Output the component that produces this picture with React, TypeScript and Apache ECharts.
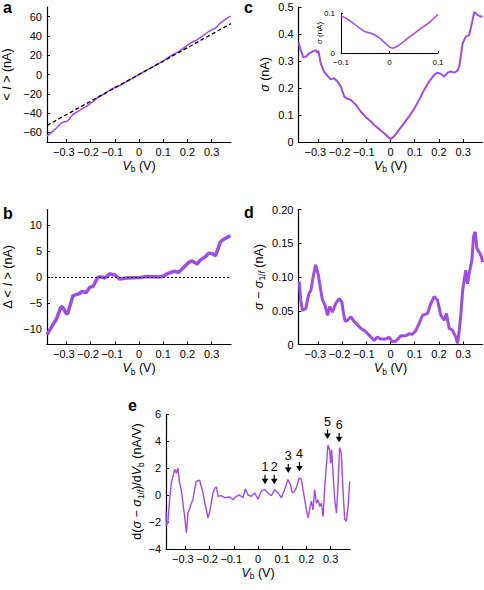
import React, { useEffect, useRef } from 'react';
import * as echarts from 'echarts';

const PURPLE = '#9b4de6';
const FONT = '"Liberation Sans", Arial, Helvetica, sans-serif';

// ---------- data ----------
// Panel a: mean current vs bias, and the linear fit
const vA = [-0.38,-0.356,-0.342,-0.322,-0.315,-0.30,-0.294,-0.273,-0.245,-0.238,-0.218,-0.204,-0.19,-0.169,-0.155,-0.141,-0.121,-0.1,-0.079,-0.051,0.004,0.032,0.087,0.101,0.115,0.143,0.164,0.177,0.205,0.219,0.24,0.254,0.274,0.288,0.302,0.316,0.337,0.351,0.371,0.378];
const iA = [-63.9,-58.7,-55.7,-50.5,-49.6,-48.8,-47.9,-41.5,-37.3,-35.9,-33.3,-30.4,-28.2,-23.5,-21.5,-19.8,-16.2,-13.5,-11.4,-7.3,0.5,4.5,12.1,14.2,16.6,21,23.7,26.1,31.3,33.5,35.9,38.6,42,44.6,46.5,48,53.6,56.1,59.4,60.4];
const fitV = [-0.38, 0.38];
const fitI = [-52.8, 52.8];

// Panel b: deviation from the fit
const vB = [-0.38,-0.356,-0.342,-0.322,-0.315,-0.30,-0.294,-0.273,-0.245,-0.238,-0.218,-0.204,-0.19,-0.169,-0.155,-0.141,-0.121,-0.1,-0.079,-0.051,0.004,0.032,0.087,0.101,0.115,0.143,0.164,0.177,0.205,0.219,0.24,0.254,0.274,0.288,0.302,0.316,0.337,0.351,0.371,0.378];
const dI = [-11.1,-9.2,-8.2,-5.7,-5.8,-7.1,-7.0,-3.6,-3.2,-2.8,-3.0,-2.0,-1.8,0,0,-0.2,0.6,0.4,-0.4,-0.2,-0.1,0.1,0,0.2,0.6,1.1,0.9,1.5,2.8,3.1,2.5,3.3,3.9,4.6,4.5,4.1,6.8,7.3,7.8,7.9];

// Panel c: sigma
const vC = [-0.38,-0.371,-0.36,-0.35,-0.336,-0.322,-0.309,-0.302,-0.298,-0.288,-0.274,-0.26,-0.247,-0.233,-0.219,-0.205,-0.191,-0.178,-0.164,-0.143,-0.123,-0.102,-0.081,-0.061,-0.04,-0.019,-0.006,0.001,0.015,0.036,0.056,0.077,0.098,0.118,0.139,0.16,0.18,0.194,0.208,0.222,0.236,0.249,0.263,0.277,0.284,0.298,0.311,0.325,0.339,0.346,0.36,0.373,0.38];
const sigmaC = [0.368,0.34,0.314,0.316,0.328,0.335,0.34,0.33,0.338,0.29,0.26,0.245,0.232,0.236,0.224,0.205,0.168,0.16,0.156,0.138,0.113,0.092,0.076,0.058,0.043,0.027,0.015,0.011,0.021,0.046,0.07,0.095,0.123,0.156,0.193,0.224,0.248,0.257,0.252,0.242,0.257,0.261,0.257,0.264,0.279,0.365,0.39,0.396,0.451,0.482,0.47,0.464,0.466];

// Panel c inset
const vIn = [-0.1,-0.09,-0.08,-0.07,-0.06,-0.05,-0.04,-0.03,-0.02,-0.01,0,0.005,0.01,0.02,0.03,0.04,0.05,0.06,0.07,0.08,0.09,0.1];
const sigmaIn = [0.093,0.087,0.079,0.07,0.061,0.053,0.05,0.045,0.037,0.026,0.015,0.012,0.013,0.02,0.029,0.039,0.048,0.057,0.066,0.074,0.085,0.097];

// Panel d: sigma - sigma_1/f
const vD = [-0.377,-0.371,-0.364,-0.35,-0.343,-0.336,-0.329,-0.322,-0.315,-0.309,-0.298,-0.288,-0.281,-0.27,-0.26,-0.251,-0.24,-0.226,-0.212,-0.201,-0.194,-0.187,-0.178,-0.164,-0.15,-0.136,-0.123,-0.102,-0.081,-0.067,-0.054,-0.04,-0.019,-0.006,0.008,0.022,0.043,0.063,0.077,0.091,0.105,0.118,0.132,0.153,0.167,0.18,0.194,0.208,0.222,0.231,0.242,0.256,0.27,0.277,0.284,0.291,0.298,0.304,0.311,0.318,0.325,0.336,0.343,0.35,0.357,0.366,0.376,0.38];
const sigmaD = [0.093,0.066,0.051,0.053,0.066,0.076,0.08,0.095,0.108,0.118,0.103,0.08,0.066,0.058,0.043,0.056,0.048,0.061,0.068,0.063,0.046,0.034,0.036,0.041,0.034,0.029,0.024,0.019,0.011,0.006,0.011,0.008,0.008,0.011,0.004,0.005,0.013,0.013,0.016,0.015,0.021,0.031,0.043,0.046,0.061,0.071,0.066,0.043,0.036,0.046,0.024,0.021,0.011,0.0015,0.021,0.046,0.08,0.095,0.11,0.09,0.105,0.125,0.16,0.167,0.142,0.137,0.13,0.122];

// Panel e: derivative
const vE = [-0.38,-0.379,-0.372,-0.365,-0.358,-0.351,-0.344,-0.337,-0.331,-0.324,-0.317,-0.31,-0.303,-0.296,-0.289,-0.282,-0.275,-0.269,-0.262,-0.255,-0.241,-0.234,-0.227,-0.22,-0.213,-0.207,-0.2,-0.193,-0.186,-0.179,-0.172,-0.165,-0.152,-0.138,-0.117,-0.103,-0.09,-0.076,-0.062,-0.052,-0.041,-0.028,-0.014,0,0.014,0.028,0.041,0.055,0.069,0.083,0.096,0.11,0.124,0.134,0.142,0.152,0.161,0.169,0.179,0.186,0.193,0.2,0.207,0.213,0.22,0.227,0.234,0.241,0.248,0.255,0.262,0.269,0.275,0.282,0.289,0.296,0.3,0.304,0.31,0.317,0.324,0.331,0.337,0.344,0.351,0.358,0.365,0.372,0.379];
const dE = [-1.2,-2.3,-2,-0.35,0.9,1.4,1.9,1.6,2.0,0.9,0.4,-0.6,-1.6,-2.8,-1.3,-1.0,-0.6,-0.35,0.4,1.0,1.1,0.6,0.15,-0.6,-1.1,-1.7,-1.3,-0.6,0.15,0.5,0.6,-0.1,-0.05,-0.2,-0.15,-0.35,-0.1,0,-0.2,0.45,0,-0.1,0.15,-0.3,0.3,0.4,0.15,-0.05,0.4,0.15,-0.2,0.4,1.15,0.75,0.15,0.3,0.65,1.25,1.15,0.4,-0.35,-1.1,-1.7,-1.1,-0.45,-1.1,0.4,-0.6,-0.35,-0.85,-0.6,-1.6,0.4,2.1,3.7,3.35,2.35,3.35,1.6,-0.35,-1.35,0.9,3.5,3.1,0.4,-1.8,-1.95,-0.85,1.0];

// Panel e arrows
const arrowLabels = ['1', '2', '3', '4', '5', '6'];
const arrowV = [0.029, 0.067, 0.125, 0.171, 0.287, 0.335];
const arrowTip = [0.8, 0.8, 1.63, 1.75, 4.15, 3.9];
const arrowTop = [1.5, 1.5, 2.3, 2.45, 4.85, 4.6];

// ticks
const xTicks = [-0.3, -0.2, -0.1, 0, 0.1, 0.2, 0.3];
const aTicks = [-60, -40, -20, 0, 20, 40, 60];
const bTicks = [-10, -5, 0, 5, 10];
const cTicks = [0, 0.1, 0.2, 0.3, 0.4, 0.5];
const dTicks = [0, 0.05, 0.1, 0.15, 0.2];
const eTicks = [-4, -2, 0, 2, 4, 6];
const inXTicks = [-0.1, 0, 0.1];
const inYTicks = [0, 0.1];

const panelLetters = ['a', 'b', 'c', 'd', 'e'];

// ---------- layout ----------
const GRIDS = [
  { left: 47, top: 7, width: 184, height: 135 },   // a
  { left: 47, top: 209.5, width: 184, height: 135 }, // b
  { left: 298.5, top: 7, width: 184, height: 135 }, // c
  { left: 341, top: 13, width: 97, height: 40 },   // c inset
  { left: 298.5, top: 209.5, width: 184, height: 135 }, // d
  { left: 166, top: 414, width: 184, height: 135 }, // e
];
const LETTER_POS = [[3, 7.5], [3, 213.5], [244, 7], [244, 212.8], [128, 405]];

const minus = (s: string) => s.replace('-', '\u2212');
const fmtX = (v: number) => {
  const r = Math.round(v * 10) / 10;
  if (r === 0) return '0';
  if (r < 0) return `{n|\u2212${Math.abs(r).toFixed(1)}}`;
  return r.toFixed(1);
};
const fmtInt = (v: number) => minus(String(Math.round(v)));
const fmtC = (v: number) => (Math.abs(v) < 1e-9 ? '0' : v.toFixed(1));
const fmtD = (v: number) => (Math.abs(v) < 1e-9 ? '0' : v.toFixed(2));

const nameStyle = (size: number) => ({
  fontSize: size,
  fontFamily: FONT,
  color: '#000',
  lineHeight: size + 3,
  rich: {
    i: { fontSize: size, fontFamily: FONT, fontStyle: 'italic', color: '#000', lineHeight: size + 3 },
    s: { fontSize: size * 0.68, fontFamily: FONT, color: '#000', lineHeight: size * 0.7, verticalAlign: 'bottom' },
    si: { fontSize: size * 0.68, fontFamily: FONT, fontStyle: 'italic', color: '#000', lineHeight: size * 0.7, verticalAlign: 'bottom' },
  },
});

const axisLine = (w = 1.2) => ({ show: true, onZero: false, lineStyle: { color: '#000', width: w } });
const axisTick = (vals: number[], len = 3) => ({
  show: true, inside: true, length: len, customValues: vals, lineStyle: { color: '#000', width: 1 },
});

function makeX(gridIndex: number, min: number, max: number, ticks: number[], opts: any = {}) {
  const fs = opts.fontSize ?? 11;
  return {
    type: 'value', gridIndex, min, max,
    axisLine: axisLine(opts.lineWidth ?? 1.2),
    axisTick: axisTick(ticks, opts.tickLen ?? 3),
    splitLine: { show: false },
    axisLabel: {
      customValues: ticks, formatter: fmtX, fontSize: fs, fontFamily: FONT, color: '#000',
      margin: opts.margin ?? 4,
      rich: { n: { fontSize: fs, fontFamily: FONT, color: '#000', padding: [0, opts.negPad ?? 5, 0, 0] } },
    },
    name: opts.noName ? '' : '{i|V}{s|b} (V)',
    nameLocation: 'middle', nameGap: 16, nameMoveOverlap: false,
    nameTextStyle: nameStyle(12.5),
  };
}

function makeY(gridIndex: number, min: number, max: number, ticks: number[], fmt: (v: number) => string, name: string, nameGap: number, opts: any = {}) {
  const fs = opts.fontSize ?? 11;
  return {
    type: 'value', gridIndex, min, max,
    axisLine: axisLine(opts.lineWidth ?? 1.2),
    axisTick: axisTick(ticks, opts.tickLen ?? 3),
    splitLine: { show: false },
    axisLabel: { customValues: ticks, formatter: fmt, fontSize: fs, fontFamily: FONT, color: '#000', margin: opts.margin ?? 5 },
    name, nameLocation: 'middle', nameRotate: 90, nameGap, nameMoveOverlap: false,
    nameTextStyle: nameStyle(opts.nameSize ?? 12.5),
  };
}

const pairs = (xs: number[], ys: number[]) => xs.map((x, i) => [x, ys[i]]);

const lineSeries = (idx: number, xs: number[], ys: number[], width: number, extra: any = {}) => ({
  type: 'line', xAxisIndex: idx, yAxisIndex: idx, data: pairs(xs, ys), showSymbol: false, symbol: 'none',
  lineStyle: { color: PURPLE, width }, itemStyle: { color: PURPLE }, clip: true, silent: true, ...extra,
});

const option: any = {
  animation: false,
  backgroundColor: '#fff',
  grid: GRIDS.map((g) => ({ ...g, containLabel: false, outerBoundsMode: 'none' })),
  xAxis: [
    makeX(0, -0.38, 0.38, xTicks),
    makeX(1, -0.38, 0.38, xTicks),
    makeX(2, -0.38, 0.38, xTicks),
    makeX(3, -0.1, 0.1, inXTicks, { fontSize: 8, noName: true, tickLen: 2, lineWidth: 1, margin: 5, negPad: 0 }),
    makeX(4, -0.38, 0.38, xTicks),
    makeX(5, -0.38, 0.38, xTicks),
  ],
  yAxis: [
    makeY(0, -70, 70, aTicks, fmtInt, '< {i|I} > (nA)', 32),
    makeY(1, -13, 13, bTicks, fmtInt, '\u0394 < {i|I} > (nA)', 31),
    makeY(2, 0, 0.5, cTicks, fmtC, '{i|\u03c3} (nA)', 26),
    makeY(3, 0, 0.1, inYTicks, fmtC, '{i|\u03c3} (nA)', 16, { fontSize: 8, nameSize: 8, tickLen: 2, lineWidth: 1, margin: 6 }),
    makeY(4, 0, 0.2, dTicks, fmtD, '{i|\u03c3} \u2212 {i|\u03c3}{s|1/}{si|f} (nA)', 32),
    makeY(5, -4, 6, eTicks, fmtInt, 'd({i|\u03c3} \u2212 {i|\u03c3}{s|1/}{si|f})/d{i|V}{s|b} (nA/V)', 21),
  ],
  series: [
    lineSeries(0, vA, iA, 1.5),
    {
      type: 'line', xAxisIndex: 0, yAxisIndex: 0, data: pairs(fitV, fitI), showSymbol: false, symbol: 'none',
      lineStyle: { color: '#000', width: 1.3, type: [4, 2.5] }, silent: true, z: 4,
    },
    lineSeries(1, vB, dI, 3.5, {
      markLine: {
        silent: true, symbol: ['none', 'none'], label: { show: false },
        lineStyle: { color: '#000', width: 1, type: [2, 2] },
        data: [{ yAxis: 0 }],
      },
    }),
    lineSeries(2, vC, sigmaC, 2),
    lineSeries(3, vIn, sigmaIn, 1.5),
    lineSeries(4, vD, sigmaD, 3),
    lineSeries(5, vE, dE, 1.4),
    {
      type: 'custom', xAxisIndex: 5, yAxisIndex: 5, silent: true, z: 5,
      data: arrowV.map((v, i) => [v, arrowTip[i], arrowTop[i]]),
      renderItem: (params: any, api: any) => {
        const tip = api.coord([api.value(0), api.value(1)]);
        const top = api.coord([api.value(0), api.value(2)]);
        const label = arrowLabels[params.dataIndex];
        return {
          type: 'group',
          children: [
            { type: 'line', shape: { x1: tip[0], y1: top[1], x2: tip[0], y2: tip[1] - 4 }, style: { stroke: '#000', lineWidth: 1.2 } },
            { type: 'polygon', shape: { points: [[tip[0] - 3.3, tip[1] - 5.5], [tip[0] + 3.3, tip[1] - 5.5], [tip[0], tip[1]]] }, style: { fill: '#000' } },
            { type: 'text', x: tip[0], y: top[1] - 1.5, style: { text: label, fontSize: 12.5, fontFamily: FONT, fill: '#000', align: 'center', verticalAlign: 'bottom' } },
          ],
        };
      },
    },
  ],
  graphic: panelLetters.map((t, i) => ({
    type: 'text', x: LETTER_POS[i][0], y: LETTER_POS[i][1], silent: true,
    style: { text: t, fontSize: 16, fontWeight: 'bold', fontFamily: FONT, fill: '#000', verticalAlign: 'middle' },
  })),
};

export default function App() {
  const ref = useRef<HTMLDivElement>(null);
  useEffect(() => {
    const chart = echarts.init(ref.current!, null, { renderer: 'svg' });
    chart.setOption(option);
    return () => chart.dispose();
  }, []);
  return (
    <div
      ref={ref}
      style={{ position: 'absolute', left: 0, top: 0, width: 484, height: 590, background: '#fff' }}
    />
  );
}
